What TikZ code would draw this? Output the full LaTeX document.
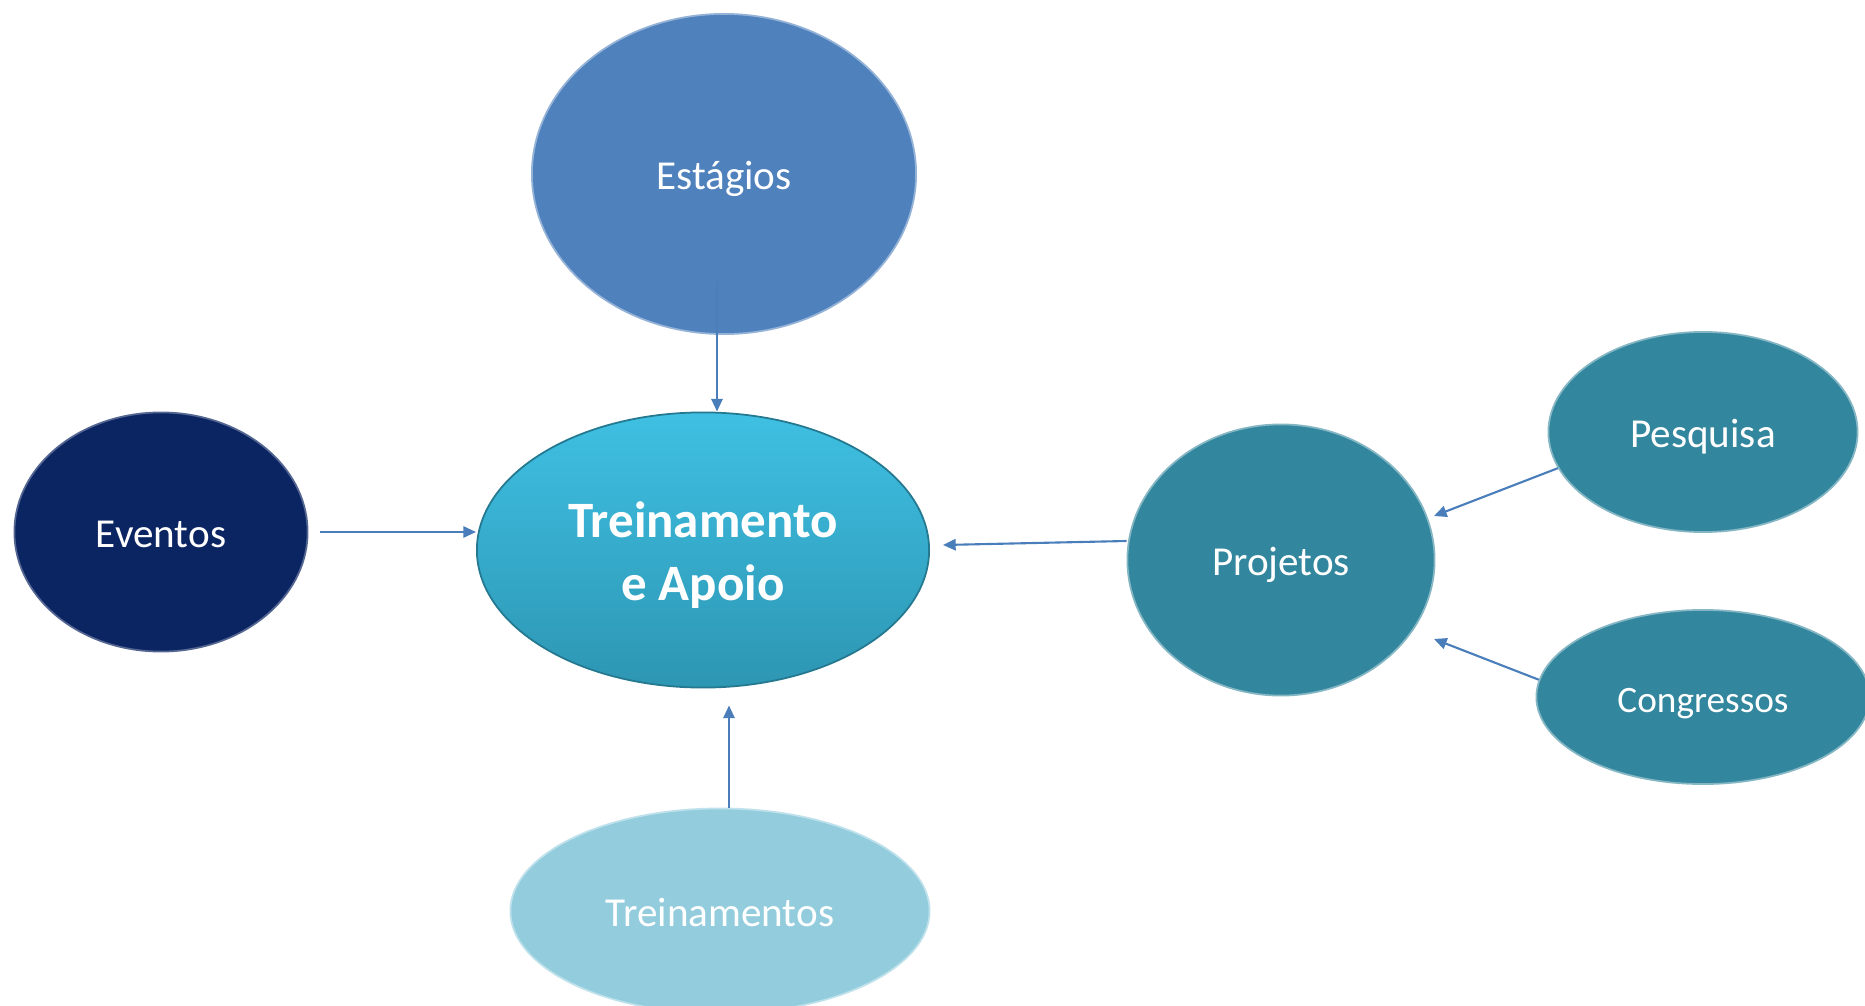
\documentclass[tikz,border=0pt]{standalone}
\usepackage{fontspec}
\setmainfont{Carlito}
\usetikzlibrary{shapes.geometric,arrows.meta}
\definecolor{estcol}{HTML}{4F81BD}
\definecolor{evcol}{HTML}{0B2462}
\definecolor{tatop}{HTML}{3FC0E3}
\definecolor{tabot}{HTML}{2D96B3}
\definecolor{aquacol}{HTML}{32869D}
\definecolor{trcol}{HTML}{93CDDD}
\definecolor{arrowcol}{HTML}{4A7EBB}
\begin{document}
\begin{tikzpicture}[x=0.01cm,y=-0.01cm,
    bubble/.style={ellipse,inner sep=0pt,text=white,align=center,
      text height=0.39cm,text depth=0.08cm,
      font=\fontsize{11.7}{14}\selectfont},
    rim/.style={draw=#1,line width=0.5pt}]
      \useasboundingbox (0,0) rectangle (1865,1006);
      \clip (0,0) rectangle (1865,1006);
      \draw
        (724,174) node[bubble,fill=estcol,rim=estcol!60!white,minimum width=3.84cm,minimum height=3.2cm] (est){Estágios}
        (161,532) node[bubble,fill=evcol,rim=evcol!70!white,minimum width=2.93cm,minimum height=2.39cm] (ev){Eventos}
        (703,550) node[bubble,top color=tatop,bottom color=tabot,rim=tabot!80!black,minimum width=4.52cm,minimum height=2.75cm,
          text height=1.09cm,text depth=,font=\fontsize{14.5}{17.9}\selectfont\bfseries] (ta){Treinamento\\e Apoio}
        (1281,560) node[bubble,fill=aquacol,rim=aquacol!60!white,minimum width=3.07cm,minimum height=2.71cm] (pr){Projetos}
        (1703,432) node[bubble,fill=aquacol,rim=aquacol!60!white,minimum width=3.09cm,minimum height=2.0cm] (pe){Pesquisa}
        (1703,697) node[bubble,fill=aquacol,rim=aquacol!60!white,minimum width=3.33cm,minimum height=1.74cm,
          font=\fontsize{10.6}{13}\selectfont] (co){Congressos}
        (720,911) node[bubble,fill=trcol,rim=trcol!60!white,minimum width=4.19cm,minimum height=2.05cm] (tr){Treinamentos};
      \begin{scope}[draw=arrowcol,line width=0.6pt,-{Triangle[length=3.6pt,width=3.2pt]}]
        \draw ([shift={(-7,-53)}]est.south) to ([shift={(14,0)}]ta.north);
        \draw ([shift={(12,0)}]ev.east) to ([shift={(0,-18)}]ta.west);
        \draw ([shift={(9,0)}]tr.north) to ([shift={(26,17)}]ta.south);
        \draw ([shift={(0,-19)}]pr.west) to ([shift={(13,-5)}]ta.east);
        \draw (pe.194) to ([shift={(153,-44)}]pr.center);
        \draw (co.174) to ([shift={(153,79)}]pr.center);
      \end{scope}
    \end{tikzpicture}
\end{document}
